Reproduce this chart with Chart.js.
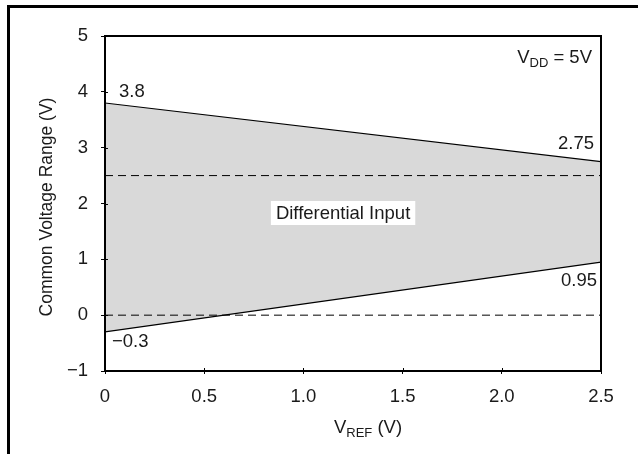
<!DOCTYPE html>
<html>
<head>
<meta charset="utf-8">
<script src="https://cdn.jsdelivr.net/npm/chart.js@4/dist/chart.umd.min.js"></script>
<style>
  html, body { margin: 0; padding: 0; background: #fff; overflow: hidden; }
  #frame { position: absolute; left: 7px; top: 5px; width: 700px; height: 520px;
           border-left: 3px solid #000; border-top: 3px solid #000; }
  #wrap { position: absolute; left: 0; top: 0; width: 638px; height: 454px; }
</style>
</head>
<body>
<div id="frame"></div>
<div id="wrap"><canvas id="c" width="638" height="454"></canvas></div>
<script>
// ---- data ----
const vref = [0, 2.5];
const upperBound = [3.8, 2.75];
const lowerBound = [-0.3, 0.95];
const dashLevels = [2.5, 0];
const xTickLabels = ['0', '0.5', '1.0', '1.5', '2.0', '2.5'];
const yTickLabels = ['\u22121', '0', '1', '2', '3', '4', '5'];
const endLabels = ['3.8', '2.75', '0.95', '\u22120.3'];
const regionLabel = 'Differential Input';
const yTitle = 'Common Voltage Range (V)';

const FONT = '"Liberation Sans", Arial, Helvetica, sans-serif';
const TXT = '#1a1a1a';
const FS = 18.5;

const pts = (ys) => vref.map((x, i) => ({ x: x, y: ys[i] }));

const overlay = {
  id: 'overlay',
  afterDraw(chart) {
    const ctx = chart.ctx;
    const a = chart.chartArea;
    const xs = chart.scales.x, ys = chart.scales.y;
    ctx.save();
    // plot frame
    ctx.strokeStyle = '#000';
    ctx.lineWidth = 2;
    ctx.strokeRect(a.left, a.top, a.right - a.left, a.bottom - a.top);
    // inner tick parts
    ctx.lineWidth = 1;
    ctx.beginPath();
    ys.ticks.forEach(t => {
      const y = Math.round(ys.getPixelForValue(t.value)) + 0.5;
      ctx.moveTo(a.left, y); ctx.lineTo(a.left + 3, y);
    });
    xs.ticks.forEach(t => {
      const x = Math.round(xs.getPixelForValue(t.value)) + 0.5;
      ctx.moveTo(x, a.bottom); ctx.lineTo(x, a.bottom - 3);
    });
    ctx.stroke();

    ctx.fillStyle = TXT;
    ctx.font = FS + 'px ' + FONT;
    ctx.textBaseline = 'middle';
    // end labels
    ctx.textAlign = 'left';
    ctx.fillText(endLabels[0], xs.getPixelForValue(vref[0]) + 14, ys.getPixelForValue(upperBound[0]) - 11);
    ctx.textAlign = 'right';
    ctx.fillText(endLabels[1], xs.getPixelForValue(vref[1]) - 7, ys.getPixelForValue(upperBound[1]) - 18);
    ctx.fillText(endLabels[2], xs.getPixelForValue(vref[1]) - 4, ys.getPixelForValue(lowerBound[1]) + 19);
    ctx.textAlign = 'left';
    ctx.fillText(endLabels[3], xs.getPixelForValue(vref[0]) + 7, ys.getPixelForValue(lowerBound[0]) + 10);

    // region label with white box
    const cx = xs.getPixelForValue(1.2), cy = ys.getPixelForValue(1.83);
    const w = ctx.measureText(regionLabel).width;
    ctx.fillStyle = '#fff';
    ctx.fillRect(cx - w / 2 - 5, cy - 12, w + 10, 24);
    ctx.fillStyle = TXT;
    ctx.textAlign = 'center';
    ctx.fillText(regionLabel, cx, cy + 1);

    // subscripted texts
    const drawSub = (parts, xRef, baseline, align) => {
      let total = 0;
      parts.forEach(p => { ctx.font = p[1] + 'px ' + FONT; total += ctx.measureText(p[0]).width; });
      let x = align === 'right' ? xRef - total : xRef - total / 2;
      ctx.textAlign = 'left';
      ctx.textBaseline = 'alphabetic';
      parts.forEach(p => {
        ctx.font = p[1] + 'px ' + FONT;
        ctx.fillText(p[0], x, baseline + p[2]);
        x += ctx.measureText(p[0]).width;
      });
    };
    drawSub([['V', FS, 0], ['DD', 13, 4], [' = 5V', FS, 0]], a.right - 9, 63, 'right');
    drawSub([['V', FS, 0], ['REF', 13, 4], [' (V)', FS, 0]], 368, 433, 'center');

    // y title
    ctx.save();
    ctx.translate(47, 207);
    ctx.rotate(-Math.PI / 2);
    ctx.font = '17.5px ' + FONT;
    ctx.textAlign = 'center';
    ctx.textBaseline = 'middle';
    ctx.fillStyle = TXT;
    ctx.fillText(yTitle, 0, 0);
    ctx.restore();

    ctx.restore();
  }
};

new Chart(document.getElementById('c'), {
  type: 'line',
  data: {
    datasets: [
      { data: pts(upperBound), borderColor: '#000', borderWidth: 1.2, pointRadius: 0,
        fill: '+1', backgroundColor: '#d9d9d9', tension: 0 },
      { data: pts(lowerBound), borderColor: '#000', borderWidth: 1.2, pointRadius: 0,
        fill: false, tension: 0 },
      { data: pts([dashLevels[0], dashLevels[0]]), borderColor: '#000', borderWidth: 1,
        borderDash: [8, 5], pointRadius: 0, fill: false },
      { data: pts([dashLevels[1], dashLevels[1]]), borderColor: '#000', borderWidth: 1,
        borderDash: [8, 5], pointRadius: 0, fill: false }
    ]
  },
  options: {
    responsive: false,
    animation: false,
    layout: { padding: { left: 0, top: 36, right: 37, bottom: 0 } },
    plugins: {
      legend: { display: false },
      tooltip: { enabled: false },
      filler: { drawTime: 'beforeDatasetsDraw' }
    },
    scales: {
      x: {
        type: 'linear', min: 0, max: 2.5,
        afterFit: s => { s.height = 83; },
        border: { display: false },
        grid: { drawOnChartArea: false, drawTicks: true, tickLength: 3, color: '#000' },
        ticks: { stepSize: 0.5, padding: 12, color: TXT, font: { family: FONT, size: FS },
                 maxRotation: 0, autoSkip: false,
                 callback: (v, i) => xTickLabels[i] }
      },
      y: {
        type: 'linear', min: -1, max: 5,
        afterFit: s => { s.width = 105; },
        border: { display: false },
        grid: { drawOnChartArea: false, drawTicks: true, tickLength: 4, color: '#000' },
        ticks: { stepSize: 1, padding: 13, color: TXT, font: { family: FONT, size: FS },
                 autoSkip: false,
                 callback: (v, i) => yTickLabels[i] }
      }
    }
  },
  plugins: [overlay]
});
</script>
</body>
</html>
